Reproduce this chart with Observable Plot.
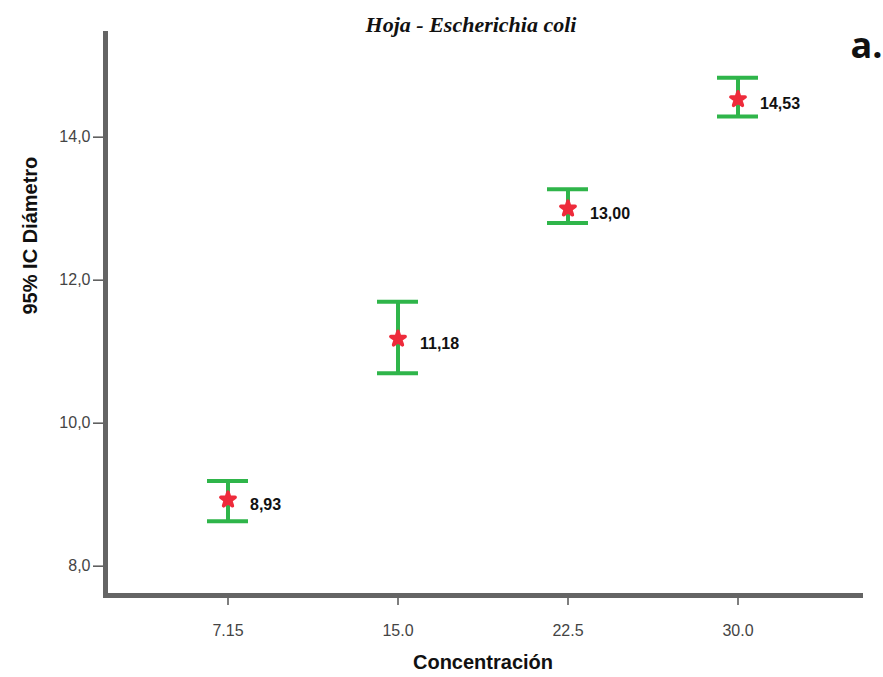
<!DOCTYPE html>
<html>
<head>
<meta charset="utf-8">
<script src="https://cdn.jsdelivr.net/npm/d3@7"></script>
<script src="https://cdn.jsdelivr.net/npm/@observablehq/plot@0.6"></script>
<style>
  html, body { margin: 0; padding: 0; background: #fff; }
  #chart svg { display: block; }
</style>
</head>
<body>
<div id="chart"></div>
<script>
const concentraciones = ["7.15", "15.0", "22.5", "30.0"];
const medias = [8.93, 11.18, 13.00, 14.53];
const icInferior = [8.63, 10.70, 12.80, 14.29];
const icSuperior = [9.19, 11.70, 13.27, 14.83];
const etiquetas = ["8,93", "11,18", "13,00", "14,53"];
const yTicks = [8, 10, 12, 14];
const titulo = "Hoja - Escherichia coli";
const panel = "a.";
const xTitulo = "Concentración";
const yTitulo = "95% IC Diámetro";

const data = concentraciones.map((c, i) => ({
  c, m: medias[i], lo: icInferior[i], hi: icSuperior[i], lab: etiquetas[i]
}));

const green = "#2fb54a";
const red = "#ee2b3b";
const axisGray = "#646464";

const chart = Plot.plot({
  width: 883,
  height: 677,
  marginLeft: 105,
  marginRight: 23,
  marginTop: 33,
  marginBottom: 82,
  style: {background: "#fff", overflow: "visible"},
  x: {type: "band", domain: concentraciones, paddingInner: 0.76, paddingOuter: 0.6},
  y: {domain: [7.59, 15.45]},
  marks: [
    Plot.axisY(yTicks, {
      tickSize: 12, tickPadding: 3, tickFormat: d => d.toFixed(1).replace(".", ","),
      fontSize: 16, fontFamily: "Liberation Sans, Arial, sans-serif",
      fill: "#444", stroke: "#555", strokeWidth: 1.5, label: null
    }),
    Plot.axisX({
      tickSize: 10, tickPadding: 19, fontSize: 16,
      fontFamily: "Liberation Sans Narrow, Arial Narrow, Liberation Sans, sans-serif",
      fill: "#444", stroke: "#555", strokeWidth: 1.5, label: null
    }),
    Plot.frame({anchor: "left", stroke: axisGray, strokeWidth: 5}),
    Plot.frame({anchor: "bottom", stroke: axisGray, strokeWidth: 5}),
    Plot.ruleX(data, {x: "c", y1: "lo", y2: "hi", stroke: green, strokeWidth: 4}),
    Plot.tickY(data, {x: "c", y: "lo", stroke: green, strokeWidth: 4}),
    Plot.tickY(data, {x: "c", y: "hi", stroke: green, strokeWidth: 4}),
    Plot.dot(data, {x: "c", y: "m", symbol: "star", r: 4.5, fill: red, stroke: red, strokeWidth: 3.5, strokeLinejoin: "round"}),
    Plot.text(data, {
      x: "c", y: "m", text: "lab", textAnchor: "start", dx: 22, dy: 5,
      fontSize: 16, fontWeight: "bold", fill: "#111",
      fontFamily: "Liberation Sans, Arial, sans-serif"
    }),
    Plot.text([titulo], {
      frameAnchor: "top", dx: -12, dy: -9, lineAnchor: "middle",
      fontSize: 22, fontStyle: "italic", fontWeight: "bold", fill: "#111",
      fontFamily: "Liberation Serif, Times New Roman, serif"
    }),
    Plot.text([panel], {
      frameAnchor: "top-right", textAnchor: "end", lineAnchor: "middle",
      dx: 22, dy: 13, fontSize: 36, fontWeight: "bold", fill: "#111",
      fontFamily: "Open Sans, Liberation Sans, sans-serif"
    }),
    Plot.text([xTitulo], {
      frameAnchor: "bottom", lineAnchor: "middle", dy: 67,
      fontSize: 20, fontWeight: "bold", fill: "#111",
      fontFamily: "Liberation Sans Narrow, Liberation Sans, Arial, sans-serif"
    }),
    Plot.text([yTitulo], {
      frameAnchor: "left", rotate: -90, lineAnchor: "middle", dx: -75,
      fontSize: 20, fontWeight: "bold", fill: "#111",
      fontFamily: "Liberation Sans, Arial, sans-serif"
    })
  ]
});
document.getElementById("chart").appendChild(chart);
</script>
</body>
</html>
